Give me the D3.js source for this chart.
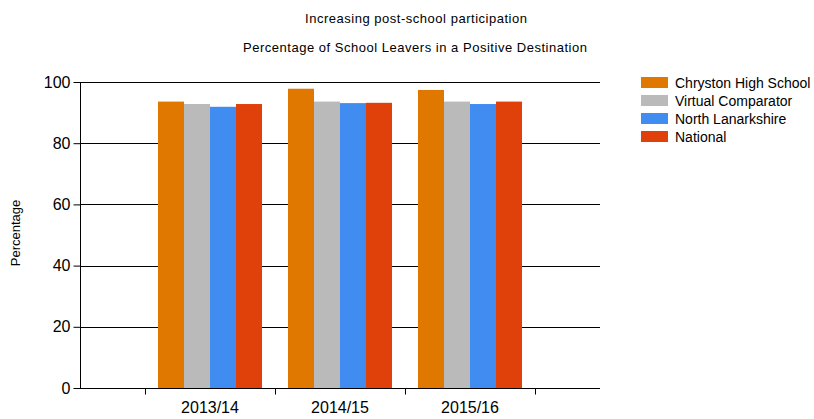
<!DOCTYPE html>
<html>
<head>
<meta charset="utf-8">
<script src="https://cdn.jsdelivr.net/npm/d3@7"></script>
<style>
	body { margin: 0; background: #fff; }
	svg { display: block; font-family: "Liberation Sans", Arial, sans-serif; }
</style>
</head>
<body>
<div id="chart"></div>
<script>
const years = ['2013/14', '2014/15', '2015/16'];
const seriesNames = ['Chryston High School', 'Virtual Comparator', 'North Lanarkshire', 'National'];
const chryston = [93.6, 97.8, 97.4];
const virtualComp = [92.8, 93.6, 93.6];
const northLan = [91.9, 93.1, 92.8];
const national = [92.8, 93.2, 93.6];
const colors = ['#e07800', '#bababa', '#418cf0', '#e0400a'];
const yTicks = [0, 20, 40, 60, 80, 100];

const series = [chryston, virtualComp, northLan, national];

const width = 814, height = 419;
const margin = { top: 82, right: 214, bottom: 31, left: 80 };

const svg = d3.select('#chart').append('svg')
	.attr('width', width)
	.attr('height', height);

// categories sit at 1..n, axis runs from 0 to n+1
const x = d3.scaleLinear()
	.domain([0, years.length + 1])
	.range([margin.left, width - margin.right]);

const y = d3.scaleLinear()
	.domain([0, 100])
	.range([height - margin.bottom, margin.top]);

const slot = x(1) - x(0);
const xGroup = d3.scaleBand()
	.domain(d3.range(series.length))
	.range([-slot * 0.4, slot * 0.4]);

// titles
svg.append('text')
	.attr('x', 416)
	.attr('y', 23)
	.attr('text-anchor', 'middle')
	.attr('font-size', 13)
	.attr('textLength', 222)
	.attr('fill', '#000')
	.text('Increasing post-school participation');

svg.append('text')
	.attr('x', 415)
	.attr('y', 52)
	.attr('text-anchor', 'middle')
	.attr('font-size', 13)
	.attr('textLength', 344)
	.attr('fill', '#000')
	.text('Percentage of School Leavers in a Positive Destination');

// gridlines
svg.append('g')
	.selectAll('line')
	.data(yTicks.filter(d => d > 0))
	.enter()
	.append('line')
	.attr('x1', margin.left)
	.attr('x2', width - margin.right)
	.attr('y1', d => Math.round(y(d)) + 0.5)
	.attr('y2', d => Math.round(y(d)) + 0.5)
	.attr('stroke', '#000')
	.attr('stroke-width', 1);

// bars
let groups = svg.append('g')
	.selectAll('g')
	.data(years)
	.enter()
	.append('g')
	.attr('transform', (d, i) => 'translate(' + x(i + 1) + ',0)');

groups.selectAll('rect')
	.data((d, i) => series.map((s, k) => ({ k: k, v: s[i] })))
	.enter()
	.append('rect')
	.attr('x', d => xGroup(d.k))
	.attr('width', xGroup.bandwidth())
	.attr('y', d => y(d.v))
	.attr('height', d => y(0) - y(d.v))
	.attr('fill', d => colors[d.k]);

// y axis
let yAxis = svg.append('g')
	.attr('transform', 'translate(' + (margin.left + 0.5) + ',0)')
	.call(d3.axisLeft(y).tickValues(yTicks).tickSize(7).tickPadding(3));
yAxis.select('.domain').attr('stroke', '#000').attr('d', 'M0,' + y(100) + 'V' + y(0));
yAxis.selectAll('.tick line').attr('stroke', '#000');
yAxis.selectAll('text')
	.attr('font-size', 16)
	.attr('font-family', '"Liberation Sans", Arial, sans-serif')
	.attr('fill', '#000');

// x axis
let xAxis = svg.append('g')
	.attr('transform', 'translate(0,' + (Math.round(y(0)) + 0.5) + ')')
	.call(d3.axisBottom(x).tickValues(d3.range(years.length + 1).map(i => i + 0.5)).tickSize(6).tickFormat(''));
xAxis.select('.domain').attr('stroke', '#000').attr('d', 'M' + margin.left + ',0H' + (width - margin.right));
xAxis.selectAll('.tick line').attr('stroke', '#000');

svg.append('g')
	.selectAll('text')
	.data(years)
	.enter()
	.append('text')
	.attr('x', (d, i) => x(i + 1))
	.attr('y', y(0) + 25)
	.attr('text-anchor', 'middle')
	.attr('font-size', 16)
	.attr('fill', '#000')
	.text(d => d);

// y label
svg.append('text')
	.attr('transform', 'translate(20,233) rotate(-90)')
	.attr('text-anchor', 'middle')
	.attr('font-size', 13)
	.attr('fill', '#000')
	.text('Percentage');

// legend
let legend = svg.append('g')
	.attr('transform', 'translate(641,77)')
	.selectAll('g')
	.data(seriesNames)
	.enter()
	.append('g')
	.attr('transform', (d, i) => 'translate(0,' + i * 18 + ')');

legend.append('rect')
	.attr('width', 27)
	.attr('height', 11)
	.attr('fill', (d, i) => colors[i]);

legend.append('text')
	.attr('x', 34)
	.attr('y', 11)
	.attr('font-size', 14)
	.attr('fill', '#000')
	.text(d => d);
</script>
</body>
</html>
